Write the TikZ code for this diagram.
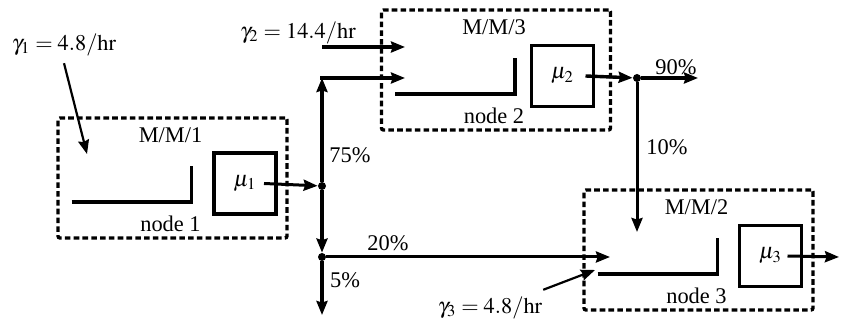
\documentclass[tikz,border=0pt]{standalone}
\usepackage{mathptmx}
\usepackage{fontspec}
\setmainfont{Liberation Serif}
\usetikzlibrary{arrows.meta,positioning}

\begin{document}
\begin{tikzpicture}[
x=0.5pt, y=-0.5pt,
font=\fontsize{11.2}{13}\selectfont,
station/.style={draw, dash pattern=on 2.8pt off 1.6pt, line width=1.7pt, rounded corners=1pt, minimum width=114.5pt, minimum height=60pt, inner sep=0pt},
server/.style={draw, line width=1.7pt, minimum width=31pt, minimum height=30.5pt, inner sep=0pt},
queue/.style={line width=1.8pt},
flow/.style={-{Stealth[length=7pt,width=5.5pt,inset=0.8pt]}, line width=1.7pt},
thinflow/.style={flow, line width=1.5pt},
feed/.style={flow, line width=1.1pt},
dot/.style={circle, fill, inner sep=0pt, minimum size=4pt}
]
\useasboundingbox (0,0) rectangle (841,325);

% stations
\node[station] (st1) at (172.5,178) {};
\node[station] (st2) at (496,70) {};
\node[station] (st3) at (698.5,250) {};

\node[server] (sv1) at (245,183.5) {$\mu_1$};
\node[server] (sv2) at (562.5,76) {$\mu_2$};
\node[server] (sv3) at (770.5,256) {$\mu_3$};

\foreach \i in {1,2,3}
  \draw[queue] ([shift={(-101,24)}]st\i.center) -| ([shift={(19,-12)}]st\i.center);

\foreach \i/\k in {1/1,2/3,3/2} {
  \node (mm\i) at ([shift={(-2,-43)}]st\i.center) {M/M/\k};
  \node (nd\i) at ([shift={(-2,46)}]st\i.center) {node \i};
}

% junctions and ends
\node[dot] (j1) at (322,186) {};
\node[dot] (j2) at (322,257) {};
\node[dot] (j3) at (637,78) {};
\coordinate (c1) at (322,78);
\coordinate (g2start) at (322,47);
\coordinate (in1) at (87,154);
\coordinate (in2a) at (405,47);
\coordinate (in2b) at (405,78);
\coordinate (in3a) at (610,257);
\coordinate (in3b) at (637,232);
\coordinate (in3c) at (595,270);
\coordinate (out5) at (322,315);
\coordinate (out90) at (698,78);
\coordinate (exit3) at (839,257);

% arrivals
\node (g1) at (64,45) {$\gamma_1 = 4.8/\mathrm{hr}$};
\node (g2) at (298,33) {$\gamma_2 = 14.4/\mathrm{hr}$};
\node (g3) at (490,308) {$\gamma_3 = 4.8/\mathrm{hr}$};
\draw[feed] (g1.south) -- (in1);
\draw[flow] (g2start) -- (in2a);
\draw[feed] ([xshift=-3pt]g3.north east) -- (in3c);

% routing
\draw[thinflow] ([xshift=9.5pt]sv1.center) -- (j1);
\draw[flow] (j1) -- (c1);
\draw[flow] ([xshift=-0.85pt]c1) -- (in2b);
\draw[flow] (j1) -- (j2);
\draw[flow] (j2) -- (out5);
\draw[thinflow] (j2) -- (in3a);
\draw[flow] ([xshift=11.5pt]sv2.center) -- (j3);
\draw[flow] (j3) -- (out90);
\draw[thinflow] (j3) -- (in3b);
\draw[thinflow] ([xshift=8.5pt]sv3.center) -- (exit3);

\node (p75) at (350,155) {75\%};
\node (p20) at (388,243) {20\%};
\node (p5) at (345,280) {5\%};
\node (p90) at (676,67) {90\%};
\node (p10) at (667,147) {10\%};
\end{tikzpicture}
\end{document}
